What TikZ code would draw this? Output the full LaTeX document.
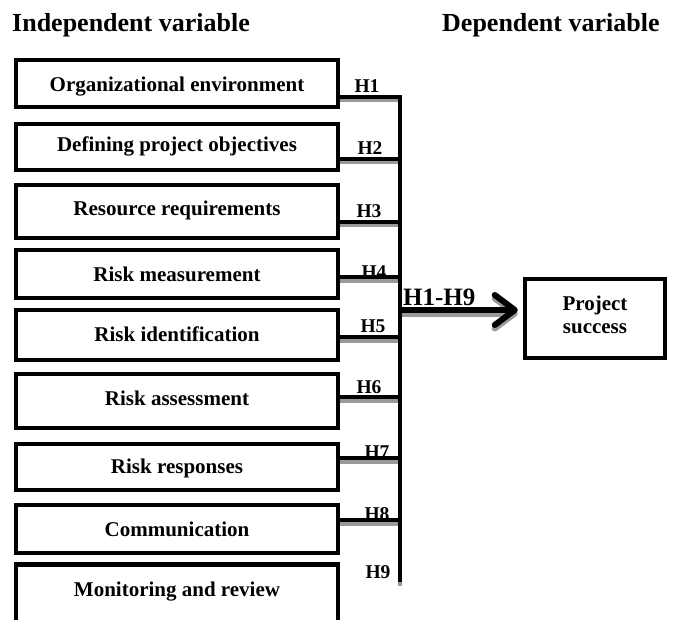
\documentclass[tikz,border=0pt]{standalone}
\usepackage{fontspec}
\setmainfont{Liberation Serif}
\usetikzlibrary{arrows.meta}
\begin{document}
\begin{tikzpicture}[x=1pt,y=-1pt,
  boxline/.style={draw=black,line width=4.5pt},
  ivbox/.style={boxline,minimum width=322pt,inner sep=0pt,
    font=\fontsize{21}{25}\selectfont\bfseries},
  tb/.style={text height=#1,text depth=0pt},
  boxtext/.style={inner sep=0pt,font=\fontsize{21}{25}\selectfont\bfseries},
  hlab/.style={anchor=base,inner sep=0pt,font=\fontsize{19.5}{22}\selectfont\bfseries},
  head/.style={anchor=base west,inner sep=0pt,font=\fontsize{26}{30}\selectfont\bfseries},
  conn/.style={line width=4pt,draw=black,line join=miter},
  shadowconn/.style={line width=4pt,draw=black!40,line join=miter},
  arrowline/.style={line width=6pt,-{Straight Barb[length=20pt,width=30pt,round]}}
]
\clip (0,0) rectangle (674,620);
\fill[white] (0,0) rectangle (674,620);

% headers
\node[head] (hind) at (12,32) {Independent variable};
\node[head] (hdep) at (442,32) {Dependent variable};

% independent variable boxes
\node[ivbox,minimum height=47pt,tb=16.8pt] (b1) at (177,83.5) {Organizational environment};
\node[ivbox,minimum height=46pt,tb=10pt] (b2) at (177,147) {Defining project objectives};
\node[ivbox,minimum height=53pt,tb=8.4pt] (b3) at (177,211.5) {Resource requirements};
\node[ivbox,minimum height=48pt,tb=15.4pt] (b4) at (177,274) {Risk measurement};
\node[ivbox,minimum height=50pt,tb=13.4pt] (b5) at (177,335) {Risk identification};
\node[ivbox,minimum height=54pt,tb=8pt] (b6) at (177,401) {Risk assessment};
\node[ivbox,minimum height=46pt,tb=12.6pt] (b7) at (177,467) {Risk responses};
\node[ivbox,minimum height=48pt,tb=15.4pt] (b8) at (177,529) {Communication};
\node[boxtext,anchor=base] (b9) at (177,596.7) {Monitoring and review};
\draw[boxline] (b9.base) ++(-161,-32) rectangle ++(322,70);

% dependent variable box
\node[boxline,minimum width=140pt,minimum height=79pt,align=center,
  font=\fontsize{21}{23.5}\selectfont\bfseries] (ps) at (595,318.5)
  {Project\\success\rule[-7.5pt]{0pt}{7.5pt}};

% junction coordinates on the bus
\coordinate (j1) at (400,97);
\coordinate (j2) at (400,159);
\coordinate (j3) at (400,222);
\coordinate (j4) at (400,277);
\coordinate (j5) at (400,337);
\coordinate (j6) at (400,397);
\coordinate (j7) at (400,458);
\coordinate (j8) at (400,520);
\coordinate (busbot) at (400,582);
\coordinate (jout) at (400,310);

% hypothesis labels (behind lines)
\node[hlab] (h1) at (367,93) {H1};
\node[hlab] (h2) at (370,155) {H2};
\node[hlab] (h3) at (369,218) {H3};
\node[hlab] (h4) at (374,278) {H4};
\node[hlab] (h5) at (373,332) {H5};
\node[hlab] (h6) at (369,393) {H6};
\node[hlab] (h7) at (377,458) {H7};
\node[hlab] (h8) at (377,520) {H8};
\node[hlab] (h9) at (378,578) {H9};
\node[anchor=base west,inner sep=0pt,font=\fontsize{25}{28}\selectfont\bfseries] (hall) at (403,305) {H1-H9};

% shadows
\begin{scope}[transform canvas={yshift=-3.5pt}]
  \draw[shadowconn] (b1.east |- j1) -- (j1) -- (busbot);
  \foreach \i in {2,...,8} \draw[shadowconn] (b\i.east |- j\i) -- (j\i);
  \draw[arrowline,draw=black!40] (jout) -- ([xshift=-5pt]jout -| ps.west);
\end{scope}

% connectors
\draw[conn] (b1.east |- j1) -- (j1) -- (busbot);
\foreach \i in {2,...,8} \draw[conn] (b\i.east |- j\i) -- (j\i);
\draw[arrowline] (jout) -- ([xshift=-5pt]jout -| ps.west);
\end{tikzpicture}
\end{document}
